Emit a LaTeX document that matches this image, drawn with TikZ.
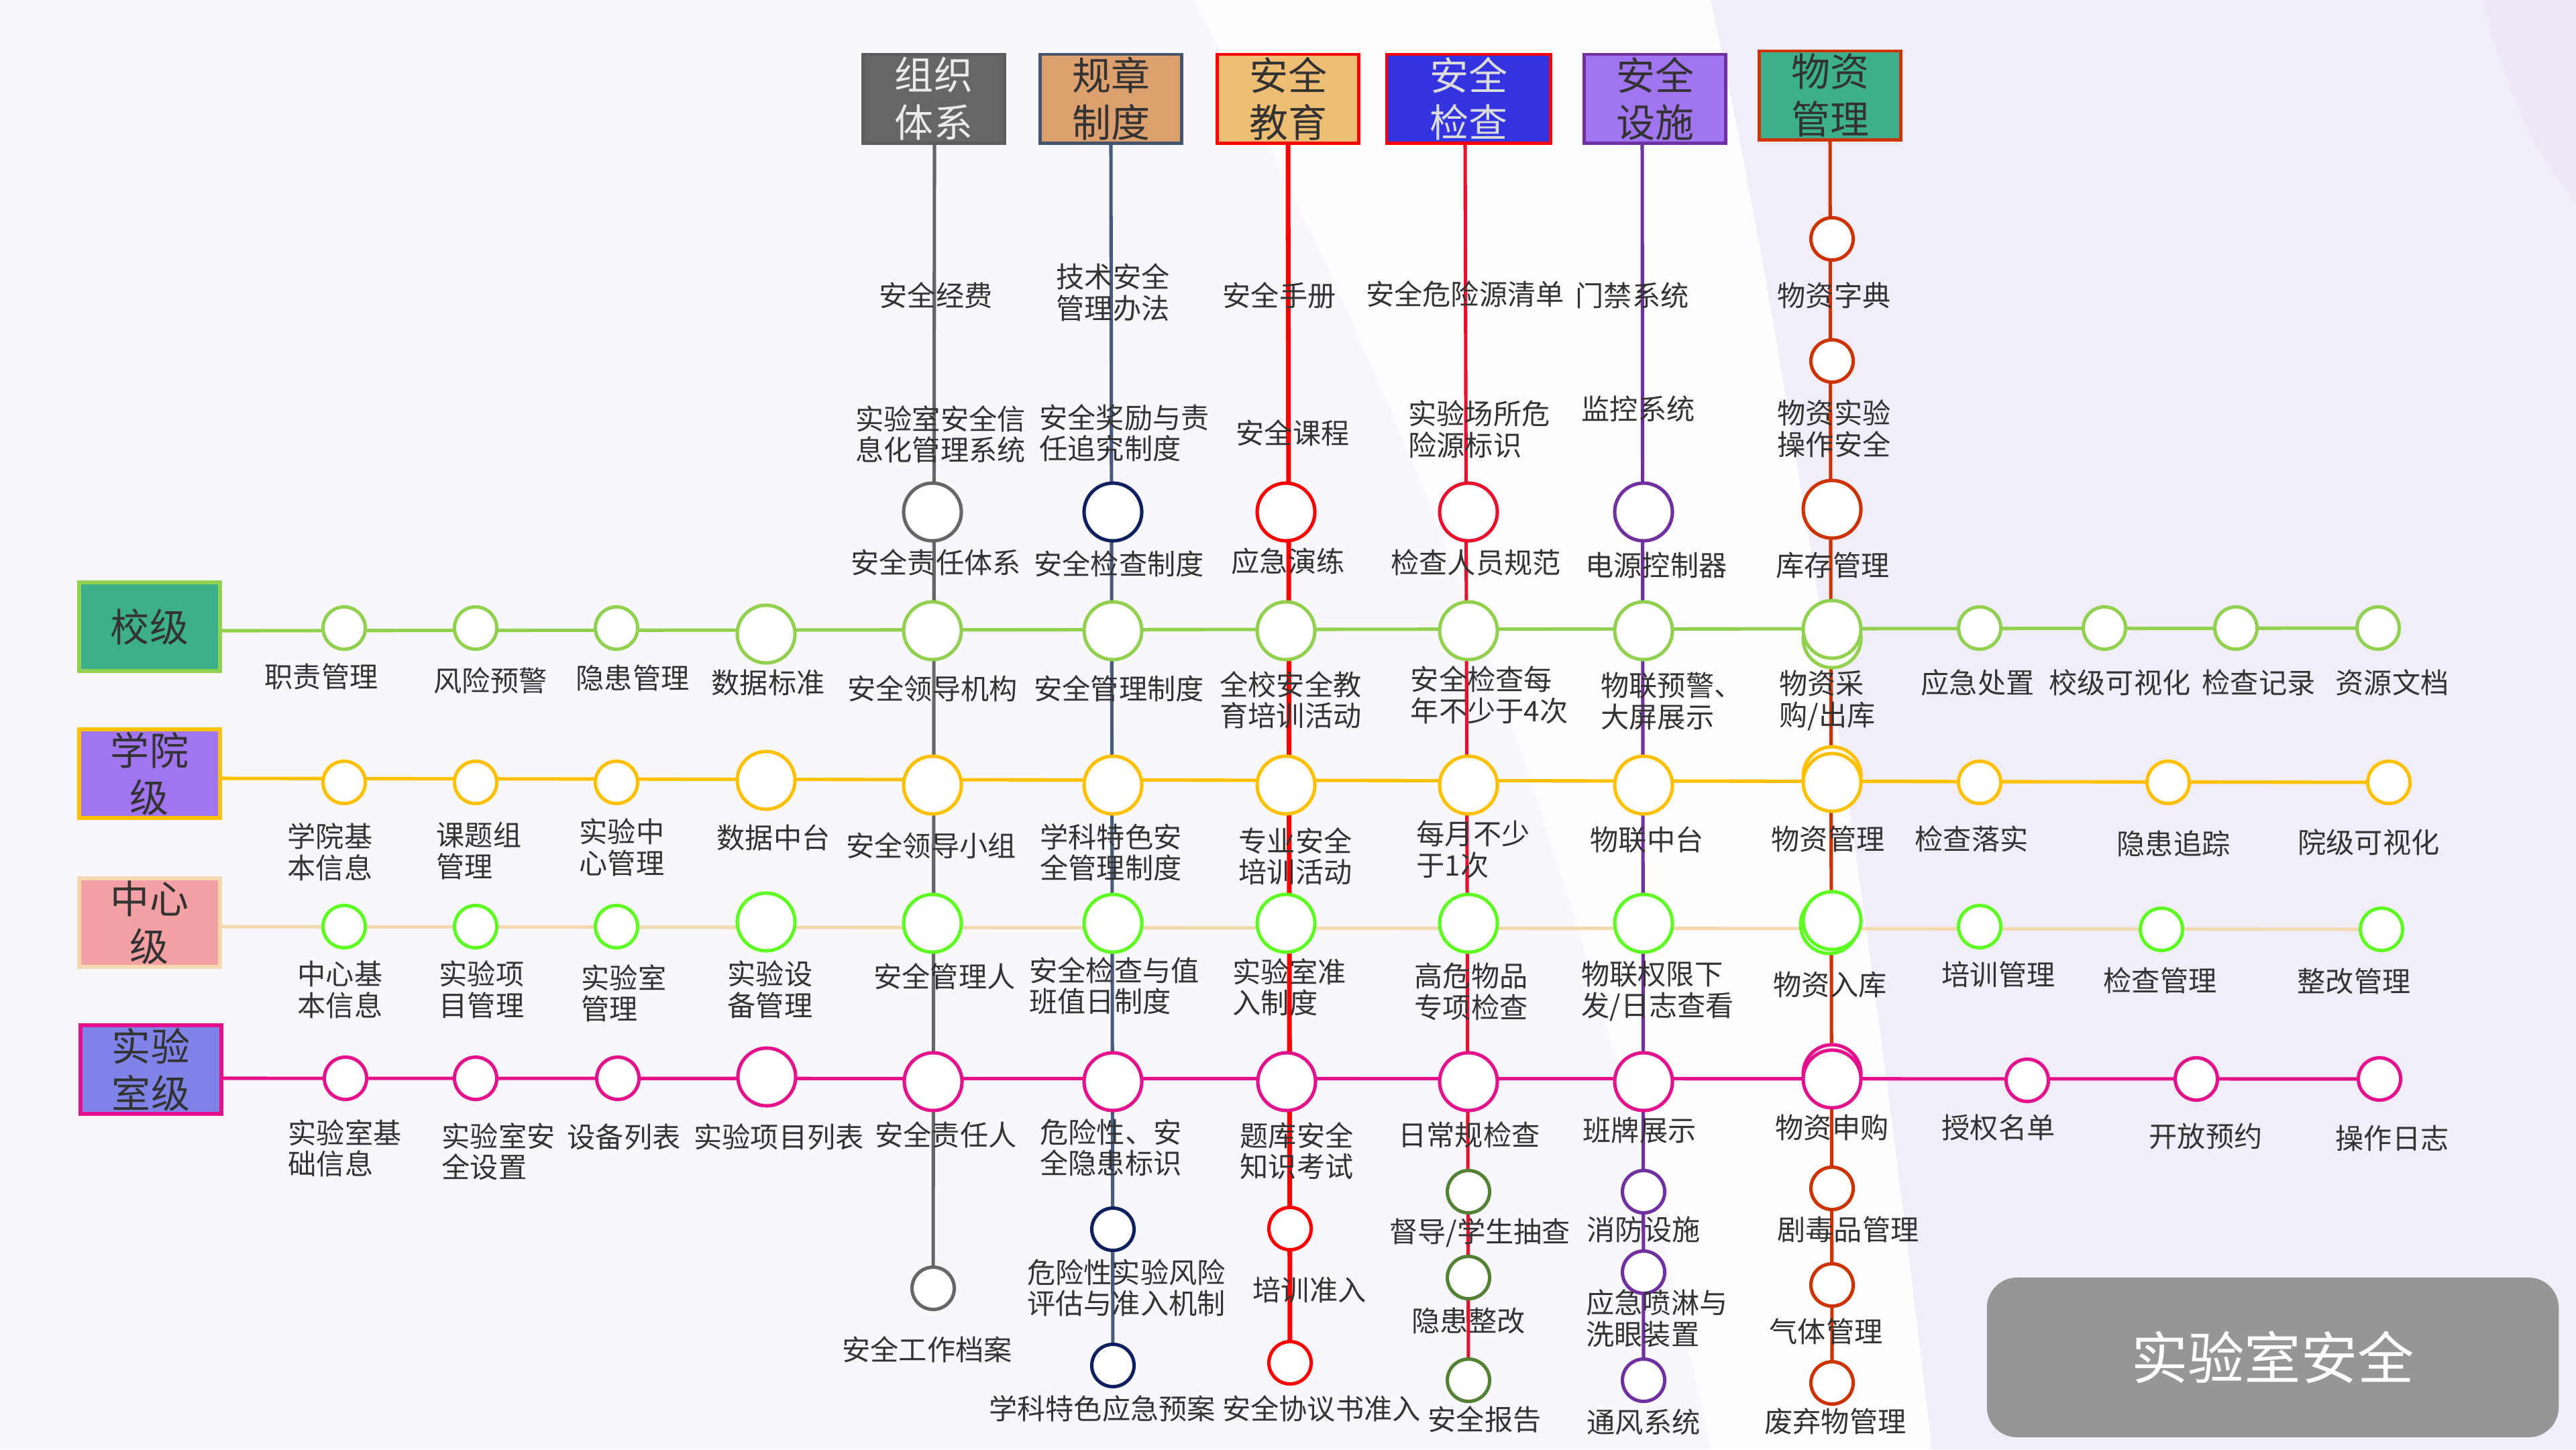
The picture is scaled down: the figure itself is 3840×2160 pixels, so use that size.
\documentclass[tikz,border=0pt]{standalone}
\usepackage{fontspec}
\setmainfont{Noto Sans CJK SC}
\pgfdeclarelayer{bg}\pgfdeclarelayer{lines}
\pgfsetlayers{bg,lines,main}
\definecolor{txt}{HTML}{333333}
\definecolor{bgbase}{HTML}{F8F7FC}
\definecolor{bgwhite}{HTML}{FDFCFF}
\definecolor{bglav}{HTML}{F2EEF9}
\definecolor{bglav2}{HTML}{EEE8F8}
\definecolor{gS}{HTML}{92D050}
\definecolor{gold}{HTML}{FFC000}
\definecolor{wheat}{HTML}{F4D8B0}
\definecolor{lime}{HTML}{5EFC22}
\definecolor{mag}{HTML}{E5118C}
\definecolor{cgrey}{HTML}{666666}
\definecolor{navy}{HTML}{0F2060}
\definecolor{slate}{HTML}{4A5A7C}
\definecolor{cred}{HTML}{FF0000}
\definecolor{crim}{HTML}{E8112D}
\definecolor{purp}{HTML}{7030A0}
\definecolor{rust}{HTML}{CC3300}
\definecolor{olive}{HTML}{548235}
\definecolor{teal}{HTML}{3DB08B}
\definecolor{lilac}{HTML}{A174F0}
\definecolor{pinkb}{HTML}{F4A1A6}
\definecolor{peri}{HTML}{7F83E8}
\definecolor{tan}{HTML}{DC9F6E}
\definecolor{slateb}{HTML}{44546A}
\definecolor{lorange}{HTML}{EDBD74}
\definecolor{blueb}{HTML}{3333E0}
\definecolor{bigg}{HTML}{969696}
\tikzset{
  lbl/.style={font=\fontsize{12}{13.2}\selectfont, text=txt, inner sep=0pt, align=center},
  lbll/.style={lbl, align=left},
  sm/.style={circle, draw, fill=white, line width=1.45pt, minimum size=0.63cm, inner sep=0pt},
  lg/.style={sm, minimum size=0.86cm},
  hd/.style={draw, line width=1.4pt, minimum width=2.11cm, minimum height=1.32cm, inner sep=0pt, align=center, font=\fontsize{16.5}{20}\selectfont, text=txt},
  rowbox/.style={draw, line width=1.7pt, minimum width=2.1cm, minimum height=1.32cm, inner sep=0pt, align=center, font=\fontsize{16.5}{20}\selectfont, text=txt},
  lnk/.style={line width=1.45pt},
  bigbox/.style={rounded corners=0.45cm, fill=bigg, minimum width=8.52cm, minimum height=2.38cm, text=white, font=\fontsize{24}{28}\selectfont}
}
\begin{document}
\begin{tikzpicture}[x=0.01cm,y=-0.01cm]
\begin{pgfonlayer}{bg}
\fill[bgbase] (0,0) rectangle (3840,2160);
\fill[bgwhite] (1779,0) .. controls (2050,500) and (2350,1200) .. (2550,2160) -- (2880,2160) .. controls (2780,1300) and (2660,500) .. (2550,0) -- cycle;
\fill[bglav] (2550,0) .. controls (2660,500) and (2780,1300) .. (2880,2160) -- (3840,2160) -- (3840,0) -- cycle;
\fill[bglav2] (3700,0) .. controls (3740,150) and (3790,250) .. (3840,300) -- (3840,0) -- cycle;
\end{pgfonlayer}
\useasboundingbox (0,0) rectangle (3840,2160);

% ---------- header boxes ----------
\node[hd, fill=cgrey, draw=cgrey!90!black, text=white!92!black] (h1) at (1392,147) {组织\\体系};
\node[hd, fill=tan, draw=slateb] (h2) at (1656,147) {规章\\制度};
\node[hd, fill=lorange, draw=cred] (h3) at (1920,147) {安全\\教育};
\node[hd, fill=blueb, draw=cred, minimum width=2.44cm, text=white!86!black] (h4) at (2189,147) {安全\\检查};
\node[hd, fill=lilac, draw=purp] (h5) at (2467,147) {安全\\设施};
\node[hd, fill=teal, draw=rust] (h6) at (2728,142) {物资\\管理};

% ---------- row boxes ----------
\node[rowbox, fill=teal, draw=gS] (r1) at (223,934) {校级};
\node[rowbox, fill=lilac, draw=gold] (r2) at (223,1153) {学院\\级};
\node[rowbox, fill=pinkb, draw=wheat] (r3) at (223,1375) {中心\\级};
\node[rowbox, fill=peri, draw=mag] (r4) at (225,1594) {实验\\室级};

% ---------- school row circles ----------
\node[sm, draw=gS] (s1) at (513,936) {};
\node[sm, draw=gS] (s2) at (709,936) {};
\node[sm, draw=gS] (s3) at (919,936) {};
\node[lg, draw=gS] (s4) at (1142,945) {};
\node[lg, draw=gS] (s5) at (1390,940) {};
\node[lg, draw=gS] (s6) at (1659,940) {};
\node[lg, draw=gS] (s7) at (1917,940) {};
\node[lg, draw=gS] (s8) at (2189,940) {};
\node[lg, draw=gS] (s9) at (2450,940) {};
\node[lg, draw=gS] (s10g) at (2731,952) {};
\node[lg, draw=gS] (s10) at (2731,938) {};
\node[sm, draw=gS] (s11) at (2951,936) {};
\node[sm, draw=gS] (s12) at (3137,936) {};
\node[sm, draw=gS] (s13) at (3333,936) {};
\node[sm, draw=gS] (s14) at (3545,936) {};

% ---------- college row circles ----------
\node[sm, draw=gold] (c1) at (513,1166) {};
\node[sm, draw=gold] (c2) at (709,1166) {};
\node[sm, draw=gold] (c3) at (919,1166) {};
\node[lg, draw=gold] (c4) at (1142,1163) {};
\node[lg, draw=gold] (c5) at (1390,1170) {};
\node[lg, draw=gold] (c6) at (1659,1170) {};
\node[lg, draw=gold] (c7) at (1917,1170) {};
\node[lg, draw=gold] (c8) at (2189,1170) {};
\node[lg, draw=gold] (c9) at (2450,1170) {};
\node[lg, draw=gold] (c10g) at (2731,1156) {};
\node[lg, draw=gold] (c10) at (2731,1166) {};
\node[sm, draw=gold] (c11) at (2951,1166) {};
\node[sm, draw=gold] (c12) at (3232,1166) {};
\node[sm, draw=gold] (c13) at (3561,1166) {};

% ---------- centre row circles ----------
\node[sm, draw=lime] (z1) at (513,1381) {};
\node[sm, draw=lime] (z2) at (709,1381) {};
\node[sm, draw=lime] (z3) at (919,1381) {};
\node[lg, draw=lime] (z4) at (1142,1374) {};
\node[lg, draw=lime] (z5) at (1390,1376) {};
\node[lg, draw=lime] (z6) at (1659,1376) {};
\node[lg, draw=lime] (z7) at (1917,1376) {};
\node[lg, draw=lime] (z8) at (2189,1376) {};
\node[lg, draw=lime] (z9) at (2450,1376) {};
\node[lg, draw=lime] (z10g) at (2727,1378) {};
\node[lg, draw=lime] (z10) at (2731,1372) {};
\node[sm, draw=lime] (z11) at (2951,1381) {};
\node[sm, draw=lime] (z12) at (3222,1385) {};
\node[sm, draw=lime] (z13) at (3550,1385) {};

% ---------- lab row circles ----------
\node[sm, draw=mag] (l1) at (515,1607) {};
\node[sm, draw=mag] (l2) at (709,1607) {};
\node[sm, draw=mag] (l3) at (921,1607) {};
\node[lg, draw=mag] (l4) at (1143,1605) {};
\node[lg, draw=mag] (l5) at (1391,1612) {};
\node[lg, draw=mag] (l6) at (1659,1612) {};
\node[lg, draw=mag] (l7) at (1918,1612) {};
\node[lg, draw=mag] (l8) at (2189,1612) {};
\node[lg, draw=mag] (l9) at (2450,1612) {};
\node[lg, draw=mag] (l10g) at (2731,1600) {};
\node[lg, draw=mag] (l10) at (2731,1608) {};
\node[sm, draw=mag] (l11) at (3022,1610) {};
\node[sm, draw=mag] (l12) at (3274,1608) {};
\node[sm, draw=mag] (l13) at (3547,1608) {};

% ---------- column circles ----------
\node[lg, draw=cgrey] (t1) at (1390,763) {};
\node[sm, draw=cgrey] (b1) at (1391,1920) {};
\node[lg, draw=navy] (t2) at (1659,763) {};
\node[sm, draw=navy] (b2a) at (1659,1832) {};
\node[sm, draw=navy] (b2b) at (1659,2035) {};
\node[lg, draw=cred] (t3) at (1917,763) {};
\node[sm, draw=cred] (b3a) at (1923,1831) {};
\node[sm, draw=cred] (b3b) at (1923,2031) {};
\node[lg, draw=crim] (t4) at (2189,763) {};
\node[sm, draw=olive] (b4a) at (2189,1776) {};
\node[sm, draw=olive] (b4b) at (2189,1904) {};
\node[sm, draw=olive] (b4c) at (2189,2057) {};
\node[lg, draw=purp] (t5) at (2450,763) {};
\node[sm, draw=purp] (b5a) at (2450,1776) {};
\node[sm, draw=purp] (b5b) at (2450,1896) {};
\node[sm, draw=purp] (b5c) at (2450,2057) {};
\node[sm, draw=rust] (m1) at (2731,356) {};
\node[sm, draw=rust] (m2) at (2731,538) {};
\node[lg, draw=rust] (t6) at (2731,759) {};
\node[sm, draw=rust] (b6a) at (2731,1771) {};
\node[sm, draw=rust] (b6b) at (2731,1915) {};
\node[sm, draw=rust] (b6c) at (2731,2061) {};

% ---------- connectors ----------
\begin{pgfonlayer}{lines}
\draw[lnk, gS] (r1.east |- 0,940) -- (s14.center);
\draw[lnk, gold] (r2.east |- 0,1160) -- (c13.center);
\draw[lnk, wheat] (r3.east |- 0,1381) -- (z13.center);
\draw[lnk, mag] (r4.east |- 0,1607) -- (l13.east);
\draw[lnk, cgrey] (h1.south -| 1393,0) -- (b1.center);
\draw[lnk, slate] (h2.south -| 1656,0) -- (b2b.south);
\draw[lnk, cred, line width=2pt] (h3.south -| 1920,0) -- (b3b.center);
\draw[lnk, crim] (h4.south -| 2184,0) -- (b4c.center);
\draw[lnk, purp] (h5.south -| 2448,0) -- (b5c.center);
\draw[lnk, rust] (h6.south -| 2728,0) -- (b6c.center);
\end{pgfonlayer}

% ---------- school row labels ----------
\node[lbl] (sl1) at (479,1008) {职责管理};
\node[lbl] (sl2) at (731,1014) {风险预警};
\node[lbl] (sl3) at (943,1010) {隐患管理};
\node[lbl] (sl4) at (1145,1017) {数据标准};
\node[lbl] (sl5) at (1390,1026) {安全领导机构};
\node[lbl] (sl6) at (1668,1026) {安全管理制度};
\node[lbl] (sl7) at (1924,1043) {全校安全教\\育培训活动};
\node[lbll] (sl8) at (2220,1036) {安全检查每\\年不少于4次};
\node[lbll] (sl9) at (2492,1045) {物联预警、\\大屏展示};
\node[lbll] (sl10) at (2724,1044) {物资采\\购/出库};
\node[lbl] (sl11) at (2948,1017) {应急处置};
\node[lbl] (sl12) at (3160,1017) {校级可视化};
\node[lbl] (sl13) at (3367,1017) {检查记录};
\node[lbl] (sl14) at (3566,1017) {资源文档};

% ---------- college row labels ----------
\node[lbll] (cl1) at (492,1270) {学院基\\本信息};
\node[lbll] (cl2) at (714,1268) {课题组\\管理};
\node[lbll] (cl3) at (927,1263) {实验中\\心管理};
\node[lbl] (cl4) at (1153,1248) {数据中台};
\node[lbl] (cl5) at (1388,1260) {安全领导小组};
\node[lbll] (cl6) at (1656,1270) {学科特色安\\全管理制度};
\node[lbll] (cl7) at (1931,1276) {专业安全\\培训活动};
\node[lbll] (cl8) at (2196,1266) {每月不少\\于1次};
\node[lbl] (cl9) at (2455,1252) {物联中台};
\node[lbl] (cl10) at (2725,1250) {物资管理};
\node[lbl] (cl11) at (2939,1250) {检查落实};
\node[lbl] (cl12) at (3240,1257) {隐患追踪};
\node[lbl] (cl13) at (3531,1255) {院级可视化};

% ---------- centre row labels ----------
\node[lbll] (zl1) at (507,1475) {中心基\\本信息};
\node[lbll] (zl2) at (718,1475) {实验项\\目管理};
\node[lbll] (zl3) at (930,1480) {实验室\\管理};
\node[lbll] (zl4) at (1148,1475) {实验设\\备管理};
\node[lbl] (zl5) at (1408,1455) {安全管理人};
\node[lbll] (zl6) at (1661,1469) {安全检查与值\\班值日制度};
\node[lbll] (zl7) at (1922,1471) {实验室准\\入制度};
\node[lbll] (zl8) at (2193,1478) {高危物品\\专项检查};
\node[lbll] (zl9) at (2471,1477) {物联权限下\\发/日志查看};
\node[lbl] (zl10) at (2728,1468) {物资入库};
\node[lbl] (zl11) at (2979,1452) {培训管理};
\node[lbl] (zl12) at (3220,1461) {检查管理};
\node[lbl] (zl13) at (3509,1462) {整改管理};

% ---------- lab row labels ----------
\node[lbll] (ll1) at (514,1711) {实验室基\\础信息};
\node[lbll] (ll2) at (743,1716) {实验室安\\全设置};
\node[lbl] (ll3) at (930,1694) {设备列表};
\node[lbl] (ll4) at (1161,1694) {实验项目列表};
\node[lbl] (ll5) at (1410,1691) {安全责任人};
\node[lbll] (ll6) at (1656,1710) {危险性、安\\全隐患标识};
\node[lbll] (ll7) at (1933,1715) {题库安全\\知识考试};
\node[lbl] (ll8) at (2190,1691) {日常规检查};
\node[lbl] (ll9) at (2444,1684) {班牌展示};
\node[lbl] (ll10) at (2731,1680) {物资申购};
\node[lbl] (ll11) at (2979,1680) {授权名单};
\node[lbl] (ll12) at (3288,1693) {开放预约};
\node[lbl] (ll13) at (3566,1696) {操作日志};

% ---------- column labels (upper) ----------
\node[lbl] (u11) at (1395,440) {安全经费};
\node[lbl] (u12) at (1402,647) {实验室安全信\\息化管理系统};
\node[lbl] (u13) at (1395,838) {安全责任体系};
\node[lbl] (u21) at (1659,436) {技术安全\\管理办法};
\node[lbll] (u22) at (1676,645) {安全奖励与责\\任追究制度};
\node[lbl] (u23) at (1668,840) {安全检查制度};
\node[lbl] (u31) at (1907,440) {安全手册};
\node[lbl] (u32) at (1927,645) {安全课程};
\node[lbl] (u33) at (1920,836) {应急演练};
\node[lbl] (u41) at (2184,438) {安全危险源清单};
\node[lbll] (u42) at (2205,640) {实验场所危\\险源标识};
\node[lbl] (u43) at (2200,838) {检查人员规范};
\node[lbl] (u51) at (2433,440) {门禁系统};
\node[lbl] (u52) at (2442,609) {监控系统};
\node[lbl] (u53) at (2469,842) {电源控制器};
\node[lbl] (u61) at (2734,440) {物资字典};
\node[lbl] (u62) at (2734,639) {物资实验\\操作安全};
\node[lbl] (u63) at (2732,842) {库存管理};

% ---------- column labels (lower) ----------
\node[lbl] (d11) at (1382,2011) {安全工作档案};
\node[lbll] (d21) at (1679,1919) {危险性实验风险\\评估与准入机制};
\node[lbl] (d22) at (1643,2099) {学科特色应急预案};
\node[lbl] (d31) at (1952,1922) {培训准入};
\node[lbl] (d32) at (1970,2099) {安全协议书准入};
\node[lbl] (d41) at (2206,1837) {督导/学生抽查};
\node[lbl] (d42) at (2189,1969) {隐患整改};
\node[lbl] (d43) at (2213,2115) {安全报告};
\node[lbl] (d51) at (2450,1832) {消防设施};
\node[lbll] (d52) at (2470,1965) {应急喷淋与\\洗眼装置};
\node[lbl] (d53) at (2450,2119) {通风系统};
\node[lbl] (d61) at (2755,1832) {剧毒品管理};
\node[lbl] (d62) at (2722,1984) {气体管理};
\node[lbl] (d63) at (2736,2118) {废弃物管理};

% ---------- title ----------
\node[bigbox] (title) at (3388,2023) {实验室安全};
\end{tikzpicture}
\end{document}
